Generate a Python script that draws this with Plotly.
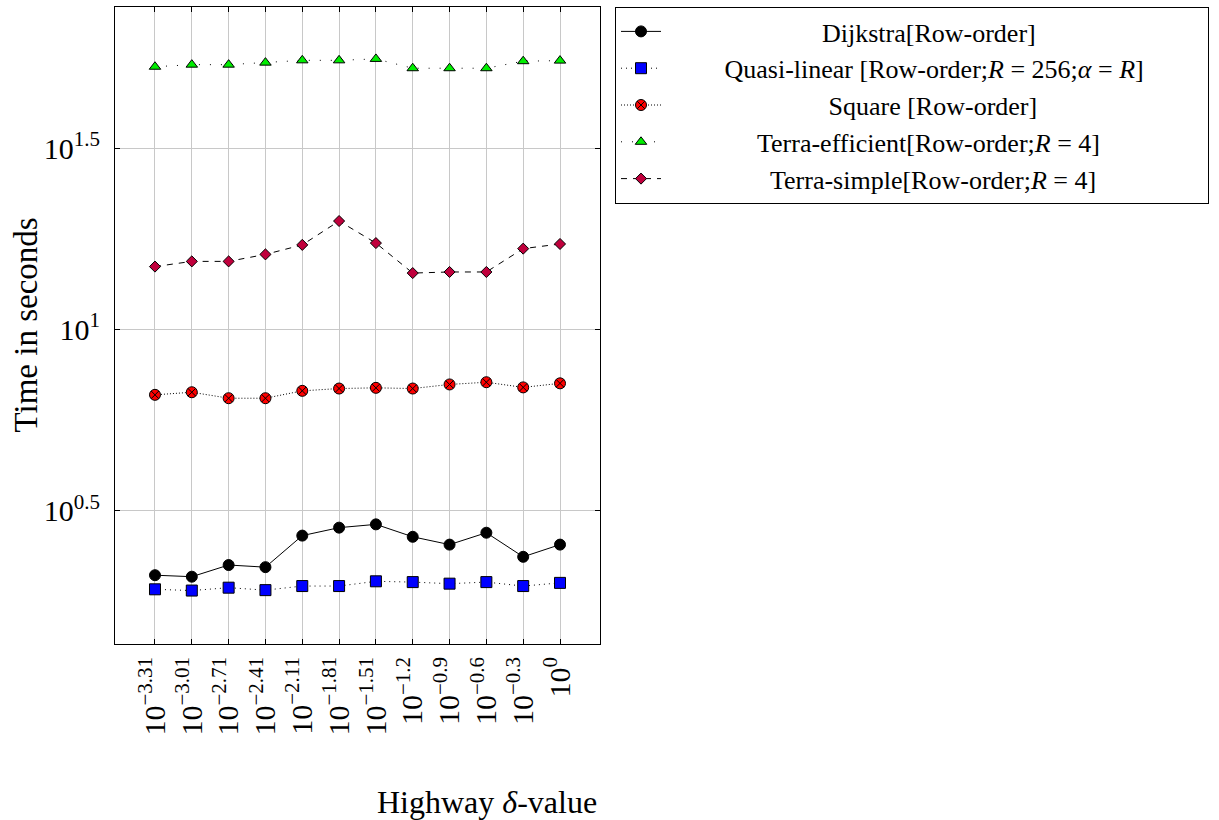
import plotly.graph_objects as go

# Highway delta exponents (x categories) and measured running times in seconds
delta_exponents = ["−3.31", "−3.01", "−2.71", "−2.41", "−2.11", "−1.81",
                   "−1.51", "−1.2", "−0.9", "−0.6", "−0.3", "0"]

dijkstra = [2.10, 2.08, 2.24, 2.21, 2.70, 2.84, 2.90, 2.68, 2.55, 2.75, 2.36, 2.55]
quasi_linear = [1.92, 1.905, 1.94, 1.91, 1.96, 1.96, 2.02, 2.01, 1.99, 2.01, 1.96, 2.00]
square = [6.60, 6.71, 6.46, 6.46, 6.77, 6.87, 6.90, 6.87, 7.05, 7.15, 6.92, 7.10]
terra_efficient = [53.0, 53.7, 53.7, 54.4, 55.2, 55.2, 55.7, 52.5, 52.5, 52.5, 54.9, 55.1]
terra_simple = [14.9, 15.4, 15.4, 16.1, 17.1, 19.9, 17.3, 14.3, 14.4, 14.4, 16.7, 17.2]

y_tick_exponents = ["0.5", "1", "1.5"]

x_idx = list(range(len(delta_exponents)))
x_text = [f"10<sup>{e}</sup>" for e in delta_exponents]

FONT = "Liberation Serif"
FS = 30
LEG_FS = 26
NB = "\u00a0"  # padding so legend labels sit centred in their column


def centred(label, lead, trail=0):
    return NB * lead + label + NB * trail


series = [
    dict(name=centred("Dijkstra[Row-order]", 24), y=dijkstra,
         marker=dict(symbol="circle", size=11, color="black",
                     line=dict(color="black", width=1)),
         line=dict(color="black", width=1, dash="solid")),
    dict(name=centred("Quasi-linear [Row-order;<i>R</i> = 256;<i>α</i> = <i>R</i>]", 9, 9),
         y=quasi_linear,
         marker=dict(symbol="square", size=11, color="#0000ff",
                     line=dict(color="black", width=1)),
         line=dict(color="black", width=1, dash="1px,4px")),
    dict(name=centred("Square [Row-order]", 25), y=square,
         marker=dict(symbol="circle-x", size=11, color="#ff0000",
                     line=dict(color="black", width=1)),
         line=dict(color="black", width=1, dash="1px,2px")),
    dict(name=centred("Terra-efficient[Row-order;<i>R</i> = 4]", 14), y=terra_efficient,
         marker=dict(symbol="triangle-up", size=10, color="#00ee00",
                     line=dict(color="black", width=1)),
         line=dict(color="black", width=1, dash="1px,10px")),
    dict(name=centred("Terra-simple[Row-order;<i>R</i> = 4]", 16), y=terra_simple,
         marker=dict(symbol="diamond", size=8.5, color="#c0003c",
                     line=dict(color="black", width=1)),
         line=dict(color="black", width=1, dash="6px,6px")),
]

fig = go.Figure()
for s in series:
    fig.add_trace(go.Scatter(x=x_idx, y=s["y"], name=s["name"], mode="lines+markers",
                             marker=s["marker"], line=s["line"]))

left, right_px, top, bottom_px = 115, 600, 7, 644
W, H = 1219, 820
plot_w = right_px - left
plot_h = bottom_px - top

fig.update_layout(
    width=W, height=H,
    margin=dict(l=left, r=W - right_px, t=top, b=H - bottom_px, autoexpand=False),
    paper_bgcolor="white", plot_bgcolor="white",
    font=dict(family=FONT, size=FS, color="black"),
    showlegend=True,
    legend=dict(x=(615 - left) / plot_w, y=1.0, xanchor="left", yanchor="top",
                bordercolor="black", borderwidth=1, bgcolor="white",
                font=dict(family=FONT, size=LEG_FS), tracegroupgap=0,
                itemwidth=40),
)

fig.update_xaxes(
    range=[-1.086, len(delta_exponents) - 1 + 1.086],
    tickmode="array", tickvals=x_idx, ticktext=x_text, tickangle=-90,
    showgrid=True, gridcolor="#c8c8c8", gridwidth=1,
    showline=True, linecolor="black", linewidth=1, mirror="ticks",
    ticks="inside", ticklen=5, tickcolor="black",
    zeroline=False, tickfont=dict(family=FONT, size=FS),
)

fig.update_yaxes(
    type="log", range=[0.1325, 1.889],
    tickmode="array", tickvals=[10 ** float(e) for e in y_tick_exponents],
    ticktext=[f"10<sup>{e}</sup>" for e in y_tick_exponents],
    showgrid=True, gridcolor="#c8c8c8", gridwidth=1,
    showline=True, linecolor="black", linewidth=1, mirror="ticks",
    ticks="inside", ticklen=5, tickcolor="black", ticklabelstandoff=8,
    zeroline=False, tickfont=dict(family=FONT, size=FS),
)

# Axis titles
fig.add_annotation(text="Time in seconds", xref="paper", yref="paper",
                   x=(25 - left) / plot_w, y=0.5, textangle=-90, showarrow=False,
                   xanchor="center", yanchor="middle",
                   font=dict(family=FONT, size=33))
fig.add_annotation(text="Highway <i>δ</i>-value", xref="paper", yref="paper",
                   x=(487 - left) / plot_w, y=(bottom_px - 802) / plot_h, showarrow=False,
                   xanchor="center", yanchor="middle",
                   font=dict(family=FONT, size=32))

fig.write_html("out.html")
